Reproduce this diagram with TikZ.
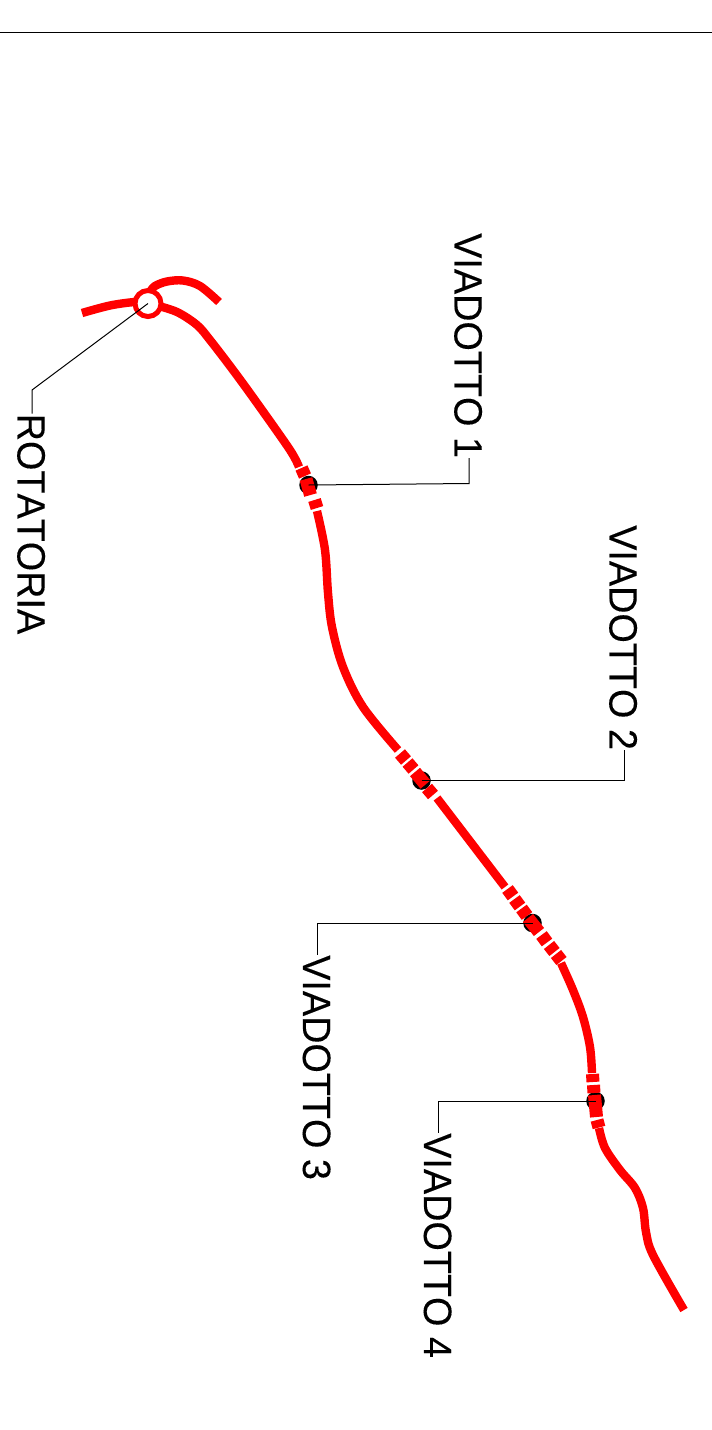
\documentclass[tikz,border=0pt]{standalone}
\usepackage{fontspec}
\setmainfont[Kerning=Off,FakeBold=0.15,FakeStretch=0.957]{Liberation Sans}
\tikzset{
  road/.style={draw=roadred,line width=8.4pt,line cap=butt,line join=round},
  bar/.style={draw=roadred,line width=13pt,line cap=butt},
  hub/.style={circle,fill=black,minimum size=18.5pt,inner sep=0pt},
  ringnode/.style={circle,draw=roadred,fill=white,line width=5pt,minimum size=26pt,inner sep=0pt},
  lead/.style={draw=black,line width=1pt,line join=miter},
  lbl/.style={rotate=-90,anchor=base west,inner sep=0pt,font=\fontsize{39.5}{40}\selectfont,text=black},
}
\definecolor{roadred}{RGB}{255,0,0}
\begin{document}
\begin{tikzpicture}[x=1pt,y=-1pt]
\useasboundingbox (0,0) rectangle (712,1430);
\fill[white] (0,0) rectangle (712,1430);
\coordinate (tl) at (0,32); \coordinate (tr) at (712,32);
\draw[black,line width=0.9pt] (tl) -- (tr);
% road
\draw[road] plot[smooth,tension=0.55] coordinates {(82,313) (110,305.5) (135,302) (148,303)};
\draw[road] plot[smooth,tension=0.55] coordinates {(150,292) (155,286) (167,281.5) (183,280.5) (200,286) (219,302)};
\draw[road] plot[smooth,tension=0.55] coordinates {(155,305) (177,312) (197,325) (210,340) (233,370) (257,403) (290,450) (299,467)};
\draw[road] plot[smooth,tension=0.55] coordinates {(317,511) (325,550) (328,593) (332,627) (343,667) (363,707) (398,750)};
\draw[road] (437,798) -- (505,887);
\draw[road] plot[smooth,tension=0.55] coordinates {(561,963) (573,990) (583,1017) (590,1047) (592,1073)};
\draw[road] plot[smooth,tension=0.55] coordinates {(599,1128) (605,1148) (620,1170) (635,1188) (643,1208) (646,1232) (653,1255) (684,1310)};
% hubs
\node[hub] (h1) at (308.5,485) {};
\node[hub] (h2) at (421.5,780.5) {};
\node[hub] (h3) at (532.5,923) {};
\node[hub] (h4) at (595.5,1101) {};
% bars
\draw[bar] (301.5,468) -- (305,476);
\draw[bar] (306,479) -- (310.5,495);
\draw[bar] (314.5,500) -- (317,508);
\draw[bar] (400,753.5) -- (406,760.5);
\draw[bar] (407.5,762.5) -- (413.5,769.5);
\draw[bar] (415,772) -- (425.5,784.5);
\draw[bar] (427,788) -- (433,795);
\draw[bar] (507.5,889) -- (513,896.5);
\draw[bar] (514.5,899) -- (520,906.5);
\draw[bar] (521.5,908.5) -- (527,916);
\draw[bar] (528,918) -- (539,932);
\draw[bar] (541.5,935) -- (547,942.5);
\draw[bar] (549,945) -- (554.5,952);
\draw[bar] (556,954) -- (561.5,961);
\draw[bar] (592.5,1074) -- (593,1082);
\draw[bar] (593.5,1085) -- (594,1093);
\draw[bar] (594.5,1095) -- (596.5,1117);
\draw[bar] (597,1120) -- (599,1127.5);
% ring
\node[ringnode] (ring) at (148,303.5) {};
% labels
\node[lbl] (t0) at (17.5,413.5) {ROTATORIA};
\node[lbl] (t1) at (454.5,233) {VIADOTTO 1};
\node[lbl] (t2) at (609.5,525) {VIADOTTO 2};
\node[lbl] (t3) at (303,955) {VIADOTTO 3};
\node[lbl] (t4) at (424,1133) {VIADOTTO 4};
% leaders
\coordinate (b0) at (32,390);
\coordinate (b1) at (469,483.5);
\coordinate (b2) at (624,780.5);
\coordinate (b3) at (317.5,923);
\coordinate (b4) at (438.5,1101);
\draw[lead] (ring.center) -- (b0) -- (b0 |- t0.west);
\draw[lead] (h1.center) -- (b1) -- (b1 |- t1.east);
\draw[lead] (h2.center) -- (b2) -- (b2 |- t2.east);
\draw[lead] (h3.center) -- (b3) -- (b3 |- t3.west);
\draw[lead] (h4.center) -- (b4) -- (b4 |- t4.west);
\end{tikzpicture}
\end{document}
